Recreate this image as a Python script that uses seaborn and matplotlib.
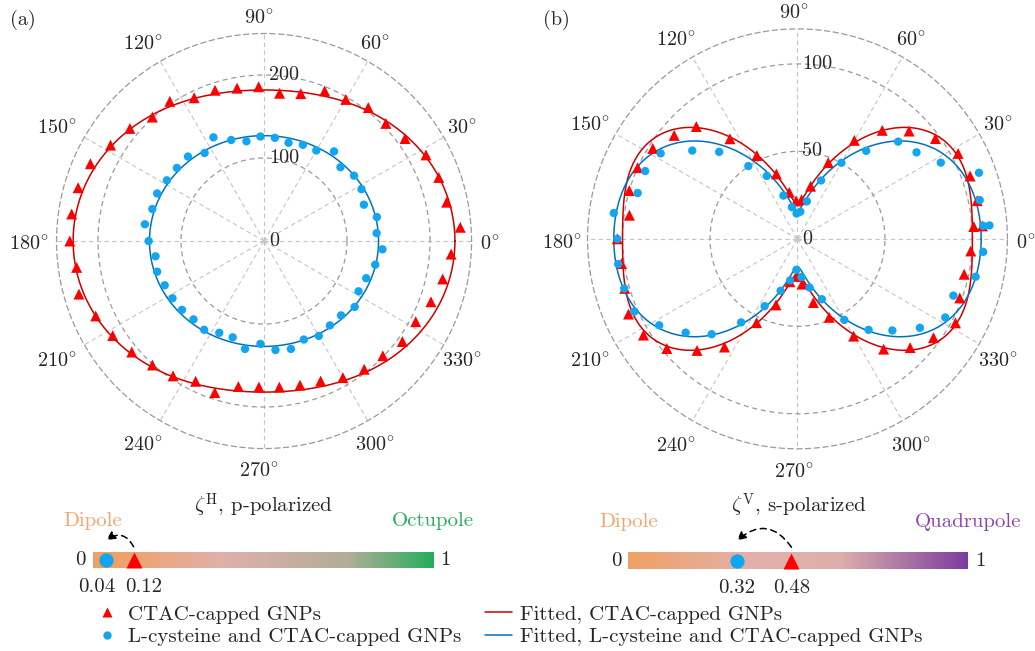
import numpy as np
import matplotlib
matplotlib.use("Agg")
import matplotlib.pyplot as plt
import seaborn as sns
from matplotlib.colors import LinearSegmentedColormap
from matplotlib.lines import Line2D
from matplotlib import transforms as mtransforms

# ---------------- data ----------------
# measurement angles (deg)
angles_a = np.arange(4, 360, 8)          # 45 angles
angles_b = np.arange(4, 365, 8)          # 46 angles (last repeats the first)

# (a) p-polarized intensities
ctac_a = [237, 225, 224, 221, 210, 204, 204, 197, 195, 183, 179, 186, 187, 191, 192,
          203, 201, 211, 218, 229, 233, 234, 234, 228, 232, 222, 215, 208, 201, 196,
          188, 192, 178, 176, 177, 179, 182, 190, 196, 199, 206, 207, 214, 220, 226]
lcys_a = [136, 139, 128, 133, 134, 128, 137, 126, 125, 122, 125, 126, 122, 128, 139,
          128, 137, 137, 138, 141, 140, 145, 139, 132, 134, 131, 130, 129, 127, 129,
          123, 122, 132, 124, 132, 134, 128, 132, 129, 129, 135, 129, 131, 137, 143]

# (b) s-polarized intensities
ctac_b = [106, 105, 105, 104, 97.5, 88.7, 78.7, 65, 47, 31, 22.5, 21.7, 27, 39, 53,
          69, 86.4, 92, 97.5, 100, 100, 97, 103, 101.5, 102.7, 105.7, 103.8, 97.5, 85.8,
          74.6, 53.3, 39.7, 24.9, 21.5, 26, 37.5, 48.4, 64.2, 80, 89.5, 96.1, 102.3,
          98.7, 97.4, 99.3, 101]
lcys_b = [110, 106.5, 110.4, 92.8, 84.1, 80, 63.8, 50.2, 36, 22.1, 15.6, 14.5, 18.4,
          26, 40, 50.2, 66.9, 78.5, 92.2, 95.3, 95, 106, 103, 103.5, 103, 102.1, 93.2,
          83.4, 73.3, 57.6, 42.8, 31.2, 24.1, 17.7, 22, 28.7, 37.2, 53.5, 66, 75.4,
          86.5, 95.7, 94.8, 104.1, 106.4, 106.4]

# fitted-model parameters
# (a): r = A cos^2(t) + B sin^2(t)
fit_ctac_a = (230, 182)
fit_lcys_a = (138, 127)
# (b): r = a cos^2(t) + b sin^2(2t) + c sin^2(t)
fit_ctac_b = (100, 30, 20)
fit_lcys_b = (105, 18.5, 16)

# zeta values
zeta_H = {"ctac": 0.12, "lcys": 0.04}
zeta_V = {"ctac": 0.48, "lcys": 0.32}

theta_ticks = np.arange(0, 360, 30)
rticks_a = [0, 100, 200]
rticks_b = [0, 50, 100]

labels = ["CTAC-capped GNPs", "L-cysteine and CTAC-capped GNPs",
          "Fitted, CTAC-capped GNPs", "Fitted, L-cysteine and CTAC-capped GNPs"]

# ---------------- style ----------------
sns.set_theme(style="white")
plt.rcParams["font.family"] = ["cmr10", "DejaVu Serif"]
plt.rcParams["mathtext.fontset"] = "cm"
plt.rcParams["axes.unicode_minus"] = False
plt.rcParams["axes.formatter.use_mathtext"] = True

RED_PT = "#ff0000"
BLUE_PT = "#12a5f0"
RED_LN = "#cc0000"
BLUE_LN = "#0072bd"
FS = 14.5
FSL = 15
DPI = 100

fig = plt.figure(figsize=(10.35, 6.51), dpi=DPI)

tfit = np.linspace(0, 2 * np.pi, 721)


def style_polar(ax, rmax, rticks, dh=23.0, dv=19.0, dd=5.0, shift=(-5.0, -3.5)):
    ax.set_theta_zero_location("E")
    ax.set_ylim(0, rmax)
    ax.set_yticks(rticks)
    ax.set_yticklabels([])
    ax.set_xticks(np.deg2rad(theta_ticks))
    ax.set_xticklabels([])
    ax.xaxis.grid(True, ls=(0, (4, 3)), color="#c4c4c4", lw=0.8)
    ax.yaxis.grid(True, ls=(0, (4, 3)), color="#9a9a9a", lw=0.9)
    ax.spines["polar"].set_linestyle((0, (4, 3)))
    ax.spines["polar"].set_color("#9a9a9a")
    ax.spines["polar"].set_linewidth(0.9)
    # angle labels, centred just outside the outer ring
    for d in theta_ticks:
        th = np.deg2rad(d)
        c, s = np.cos(th), np.sin(th)
        dist = dh * c ** 2 + dv * s ** 2 + dd * abs(np.sin(2 * th))
        dx = c * dist + shift[0]
        dy = s * dist + shift[1]
        ax.text(th, rmax, rf"${d}^{{\!\circ}}$", ha="center", va="center",
                fontsize=FS, clip_on=False,
                transform=ax.transData + mtransforms.ScaledTranslation(
                    dx / DPI, dy / DPI, fig.dpi_scale_trans))
    # radial labels
    off = mtransforms.offset_copy(ax.transData, fig=fig, x=3.5, y=0, units="points")
    for r in rticks:
        ax.text(np.pi / 2, r, f"{r}", transform=off, ha="left", va="center",
                fontsize=FS, zorder=5)


def plot_series(ax, ang, vals, marker, color, s):
    sns.scatterplot(x=np.deg2rad(ang), y=vals, ax=ax, marker=marker, color=color,
                    s=s, edgecolor="none", linewidth=0, zorder=4, legend=False)


# ---------------- panel (a) ----------------
axa = fig.add_axes([0.0546, 0.311, 0.401, 0.6375], projection="polar")
style_polar(axa, 250, rticks_a)
A, B = fit_ctac_a
sns.lineplot(x=tfit, y=A * np.cos(tfit) ** 2 + B * np.sin(tfit) ** 2, ax=axa,
             sort=False, color=RED_LN, lw=1.1, zorder=3)
A, B = fit_lcys_a
sns.lineplot(x=tfit, y=A * np.cos(tfit) ** 2 + B * np.sin(tfit) ** 2, ax=axa,
             sort=False, color=BLUE_LN, lw=1.1, zorder=3)
plot_series(axa, angles_a, ctac_a, "^", RED_PT, 62)
plot_series(axa, angles_a, lcys_a, "o", BLUE_PT, 36)
axa.set_xlabel("")
axa.set_ylabel("")

# ---------------- panel (b) ----------------
axb = fig.add_axes([0.5676, 0.3106, 0.4058, 0.645], projection="polar")
style_polar(axb, 120, rticks_b, dh=22.0, dv=19.5, dd=5.0, shift=(-4.0, -4.0))
for (a, b, c), col in [(fit_ctac_b, RED_LN), (fit_lcys_b, BLUE_LN)]:
    sns.lineplot(x=tfit, y=a * np.cos(tfit) ** 2 + b * np.sin(2 * tfit) ** 2
                 + c * np.sin(tfit) ** 2, ax=axb, sort=False, color=col, lw=1.1,
                 zorder=3)
plot_series(axb, angles_b, ctac_b, "^", RED_PT, 62)
plot_series(axb, angles_b, lcys_b, "o", BLUE_PT, 36)
axb.set_xlabel("")
axb.set_ylabel("")

fig.text(10 / 1035, 1 - 20 / 651, "(a)", fontsize=FS, ha="left", va="center")
fig.text(543 / 1035, 1 - 20 / 651, "(b)", fontsize=FS, ha="left", va="center")

# ---------------- colour bars ----------------
cmap_H = LinearSegmentedColormap.from_list(
    "dip_oct", [(0.0, (0.94, 0.63, 0.40)), (0.06, (0.94, 0.63, 0.40)),
                (0.38, (0.88, 0.69, 0.67)), (0.75, (0.69, 0.68, 0.59)),
                (1.0, (0.14, 0.68, 0.36))])
cmap_V = LinearSegmentedColormap.from_list(
    "dip_quad", [(0.0, (0.94, 0.63, 0.40)), (0.35, (0.89, 0.69, 0.66)),
                 (0.62, (0.87, 0.69, 0.67)), (1.0, (0.49, 0.24, 0.62))])


def colour_bar(rect, cmap, zeta, title, right_label, right_color, spread):
    cax = fig.add_axes(rect)
    grad = np.linspace(0, 1, 256)[None, :]
    cax.imshow(grad, extent=[0, 1, 0, 1], aspect="auto", cmap=cmap)
    cax.set_xlim(0, 1)
    cax.set_ylim(0, 1)
    cax.set_axis_off()
    cax.plot([zeta["lcys"]], [0.5], "o", color=BLUE_PT, ms=10.3, mec="none",
             clip_on=False, zorder=5)
    cax.plot([zeta["ctac"]], [0.5], "^", color=RED_PT, ms=11, mec="none",
             clip_on=False, zorder=5)
    t = cax.transAxes
    cax.text(0, 0.5, "0", transform=mtransforms.offset_copy(t, fig=fig, x=-5, units="points"),
             ha="right", va="center", fontsize=FSL)
    cax.text(1, 0.5, "1", transform=mtransforms.offset_copy(t, fig=fig, x=5, units="points"),
             ha="left", va="center", fontsize=FSL)
    for key, dx in (("lcys", -spread), ("ctac", spread)):
        cax.text(zeta[key], 0, f"{zeta[key]:.2f}",
                 transform=mtransforms.offset_copy(cax.transData, fig=fig, x=dx, y=-7,
                                                   units="points"),
                 ha="center", va="top", fontsize=FSL)
    cax.text(0, 1, "Dipole", transform=mtransforms.offset_copy(t, fig=fig, y=22, units="points"),
             ha="center", va="center", fontsize=FSL, color="#f4a46c")
    cax.text(1, 1, right_label, transform=mtransforms.offset_copy(t, fig=fig, y=22, units="points"),
             ha="center", va="center", fontsize=FSL, color=right_color)
    cax.text(0.5, 1, title, transform=mtransforms.offset_copy(t, fig=fig, y=33, units="points"),
             ha="center", va="center", fontsize=FSL)
    cax.annotate("", xy=(zeta["lcys"], 1.7), xytext=(zeta["ctac"], 1.3),
                 xycoords="data", textcoords="data",
                 arrowprops=dict(arrowstyle="-|>", connectionstyle="arc3,rad=0.55",
                                 ls=(0, (4, 3)), color="black", lw=1.1,
                                 mutation_scale=13, shrinkA=0, shrinkB=0),
                 annotation_clip=False)
    return cax


colour_bar([0.0896, 0.127, 0.3291, 0.0255], cmap_H, zeta_H,
           r"$\zeta^{\mathrm{H}}$, p-polarized", "Octupole", "#27ae60", 7)
colour_bar([0.607, 0.126, 0.3285, 0.0257], cmap_V, zeta_V,
           r"$\zeta^{\mathrm{V}}$, s-polarized", "Quadrupole", "#8e44ad", 0)

# ---------------- legend ----------------
handles = [
    Line2D([], [], ls="none", marker="^", color=RED_PT, ms=7.5, mec="none"),
    Line2D([], [], ls="none", marker="o", color=BLUE_PT, ms=6, mec="none"),
    Line2D([], [], color=RED_LN, lw=1.1),
    Line2D([], [], color=BLUE_LN, lw=1.1),
]
fig.legend(handles, labels, loc="upper left", bbox_to_anchor=(93 / 1035, 1 - 605 / 651),
           ncol=2, frameon=False, fontsize=FSL, handlelength=1.3, handletextpad=0.4,
           labelspacing=0.18, columnspacing=1.1, borderpad=0, borderaxespad=0)

fig.savefig("out.png", dpi=DPI)
